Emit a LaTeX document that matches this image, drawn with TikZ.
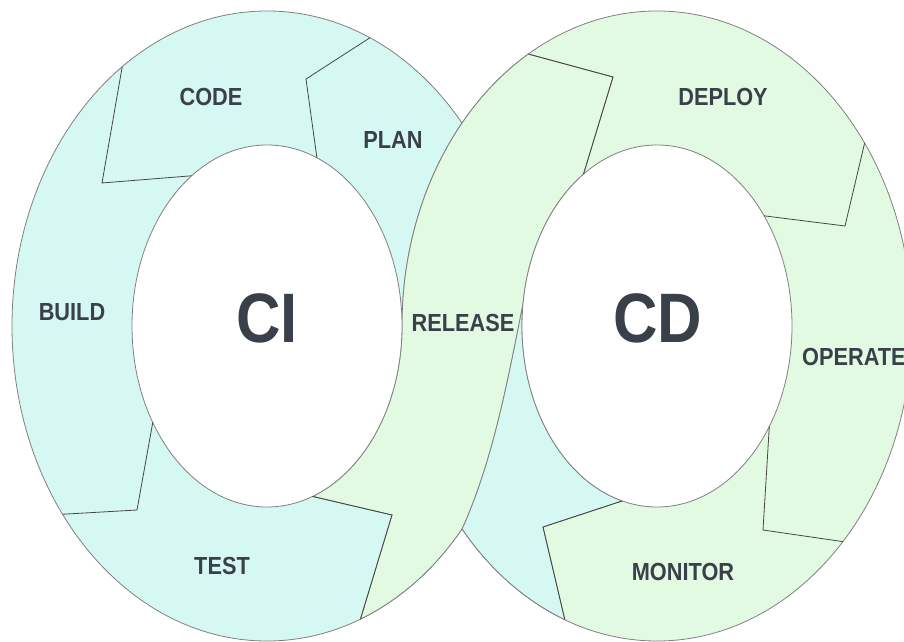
\documentclass[tikz,border=0pt]{standalone}
\usepackage{fontspec}
\setmainfont{Liberation Sans}[FakeStretch=0.88]
\usetikzlibrary{calc}
\definecolor{RingCyan}{RGB}{214,248,242}
\definecolor{RingGreen}{RGB}{226,249,226}
\definecolor{EdgeGray}{RGB}{128,128,128}
\definecolor{NotchGray}{RGB}{70,70,70}
\definecolor{LabelDark}{RGB}{57,64,73}

\begin{document}
\begin{tikzpicture}[x=1pt,y=1pt,
  ring/.style={draw=EdgeGray,line width=0.8pt},
  notch/.style={draw=NotchGray,line width=0.8pt},
  stage/.style={text=LabelDark,inner sep=0pt,font=\fontsize{24.7}{26}\selectfont\bfseries},
  loopname/.style={text=LabelDark,inner sep=0pt,font=\fontsize{70}{72}\selectfont\bfseries}]
  \useasboundingbox (0,0) rectangle (904,641);
  \coordinate (L) at (267,315);
  \coordinate (R) at (657,315);
  \coordinate (cpO) at ($(L)+(66.2:255 and 315)$);
  \coordinate (cpM) at (306,562);
  \coordinate (cpI) at ($(L)+(68.3:135 and 181)$);
  \coordinate (cbO) at ($(L)+(124.6:255 and 315)$);
  \coordinate (cbM) at (102,458);
  \coordinate (cbI) at ($(L)+(123.9:135 and 181)$);
  \coordinate (btO) at ($(L)+(216.7:255 and 315)$);
  \coordinate (btM) at (137,131);
  \coordinate (btI) at ($(L)+(212.2:135 and 181)$);
  \coordinate (trO) at ($(L)+(-68.5:255 and 315)$);
  \coordinate (trM) at (392,126);
  \coordinate (trI) at ($(L)+(-70.3:135 and 181)$);
  \coordinate (rdO) at ($(R)+(120.3:255 and 315)$);
  \coordinate (rdM) at (613,564);
  \coordinate (rdI) at ($(R)+(123:135 and 181)$);
  \coordinate (doO) at ($(R)+(35.5:255 and 315)$);
  \coordinate (doM) at (845,415);
  \coordinate (doI) at ($(R)+(37.5:135 and 181)$);
  \coordinate (omO) at ($(R)+(-43.2:255 and 315)$);
  \coordinate (omM) at (763,111);
  \coordinate (omI) at ($(R)+(-33.7:135 and 181)$);
  \coordinate (mpO) at ($(R)+(-111.2:255 and 315)$);
  \coordinate (mpM) at (543,114);
  \coordinate (mpI) at ($(R)+(-104.9:135 and 181)$);
  \coordinate (cross) at ($(L)+(-40.1:255 and 315)$);
  \coordinate (cusp) at ($(R)+(172.7:135 and 181)$);
  \draw[ring,fill=RingCyan] (L) ellipse [x radius=255,y radius=315];
  \draw[ring,fill=RingGreen] (R) ellipse [x radius=255,y radius=315];
  \draw[ring,fill=RingCyan] (cross) arc[start angle=220.1,end angle=248.8,x radius=255,y radius=315]
    -- (mpM) -- (mpI) arc[start angle=-104.9,end angle=-187.3,x radius=135,y radius=181]
    .. controls (508,263) and (493.5,182) .. (cross) -- cycle;
  \draw[ring,fill=RingGreen] (rdO) arc[start angle=120.3,end angle=180,x radius=255,y radius=315]
    arc[start angle=0,end angle=-70.3,x radius=135,y radius=181]
    -- (trM) -- (trO) arc[start angle=-68.5,end angle=-40.1,x radius=255,y radius=315]
    .. controls (493.5,182) and (508,263) .. (cusp)
    arc[start angle=172.7,end angle=123,x radius=135,y radius=181]
    -- (rdM) -- cycle;
  \draw[ring,fill=white] (L) ellipse [x radius=135,y radius=181];
  \draw[ring,fill=white] (R) ellipse [x radius=135,y radius=181];
  \draw[notch] (cpO) -- (cpM) -- (cpI);
  \draw[notch] (cbO) -- (cbM) -- (cbI);
  \draw[notch] (btO) -- (btM) -- (btI);
  \draw[notch] (trI) -- (trM) -- (trO);
  \draw[notch] (rdO) -- (rdM) -- (rdI);
  \draw[notch] (doO) -- (doM) -- (doI);
  \draw[notch] (omO) -- (omM) -- (omI);
  \draw[notch] (mpO) -- (mpM) -- (mpI);
  \node[stage] (code) at (211,544) {CODE};
  \node[stage] (plan) at (393,501) {PLAN};
  \node[stage] (build) at (72,329) {BUILD};
  \node[stage] (test) at (222,75) {TEST};
  \node[stage] (release) at (463,318) {RELEASE};
  \node[stage] (deploy) at (723,544) {DEPLOY};
  \node[stage,anchor=west] (operate) at (802,284) {OPERATE};
  \node[stage] (monitor) at (683,69) {MONITOR};
  \node[loopname] (ci) at (267,323) {CI};
  \node[loopname] (cd) at (658,323) {CD};
\end{tikzpicture}
\end{document}
